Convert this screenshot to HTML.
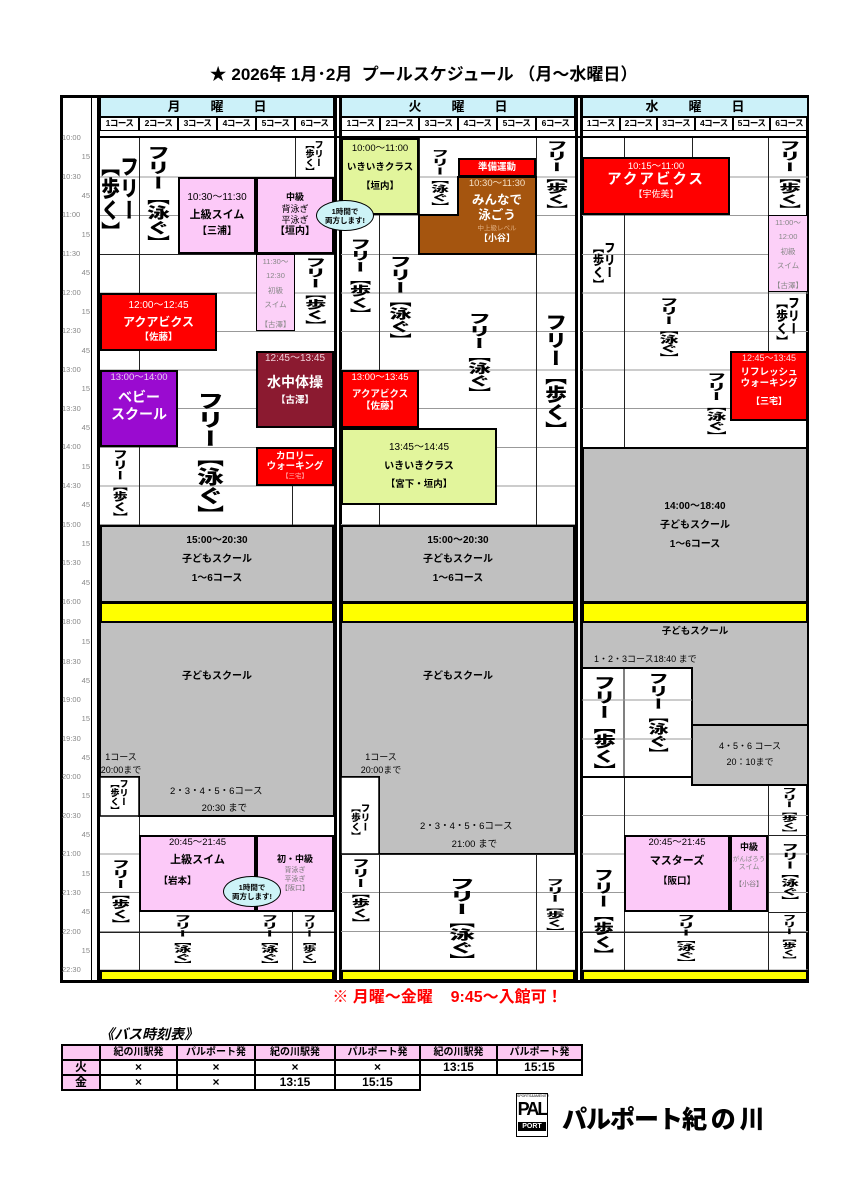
<!DOCTYPE html>
<html><head><meta charset="utf-8">
<style>
*{margin:0;padding:0}
body{width:847px;height:1200px;background:#fff;position:relative;overflow:hidden;font-family:"Liberation Sans","Noto Sans CJK JP",sans-serif;color:#000}
.a{position:absolute;box-sizing:border-box}
.c{display:flex;flex-direction:column;align-items:center;justify-content:center;text-align:center;line-height:1.25}
.b{border:2px solid #000}
.vt{writing-mode:vertical-rl;font-weight:900;line-height:1;display:inline-block;font-family:"Noto Sans CJK JP",sans-serif;white-space:nowrap}
.vb{display:flex;align-items:center;justify-content:center}
.bd{font-weight:bold}
.tl{position:absolute;left:60px;width:30px;text-align:right;font-size:7.5px;color:#888;line-height:9px}
.body{background:repeating-linear-gradient(to bottom,transparent 0,transparent 37.6px,#999 37.6px,#999 38.6px)}
.vl{position:absolute;width:1px;background:#222}
.hl{position:absolute;height:1px;background:#222}
.cr{display:flex}
.cr div{flex:1;border:1px solid #000;font-size:8.5px;font-weight:bold;text-align:center;line-height:11px;letter-spacing:-0.5px}
.hd{background:#ccf1f9;border:1.5px solid #000;font-size:13px;font-weight:bold;text-align:center;line-height:17px;letter-spacing:30px;padding-left:30px}
.bt td{border:2px solid #000;text-align:center;padding:0;line-height:13px;height:13px}
</style></head><body>

<div class="a bd" style="left:0;top:63px;width:847px;text-align:center;font-size:17px;line-height:24px">★ 2026年 1月･2月&nbsp; プールスケジュール （月～水曜日）</div>

<!-- frame -->
<div class="a" style="left:60px;top:95px;width:749px;height:888px;border:3px solid #000"></div>
<div class="vl" style="left:91px;top:97px;height:884px;background:#000"></div>
<div class="a" style="left:97px;top:97px;width:3px;height:884px;background:#000"></div>
<div class="a" style="left:334px;top:97px;width:2.5px;height:884px;background:#000"></div>
<div class="a" style="left:339px;top:97px;width:2.5px;height:884px;background:#000"></div>
<div class="a" style="left:575px;top:97px;width:2.5px;height:884px;background:#000"></div>
<div class="a" style="left:580px;top:97px;width:2.5px;height:884px;background:#000"></div>

<!-- headers -->
<div class="a hd" style="left:100px;top:97px;width:234px;height:20px">月曜日</div>
<div class="a hd" style="left:341px;top:97px;width:234px;height:20px">火曜日</div>
<div class="a hd" style="left:582px;top:97px;width:226px;height:20px">水曜日</div>
<div class="a cr" style="left:100px;top:117px;width:234px;height:14px"><div>1コース</div><div>2コース</div><div>3コース</div><div>4コース</div><div>5コース</div><div>6コース</div></div>
<div class="a cr" style="left:341px;top:117px;width:234px;height:14px"><div>1コース</div><div>2コース</div><div>3コース</div><div>4コース</div><div>5コース</div><div>6コース</div></div>
<div class="a cr" style="left:582px;top:117px;width:226px;height:14px"><div>1コース</div><div>2コース</div><div>3コース</div><div>4コース</div><div>5コース</div><div>6コース</div></div>
<div class="a" style="left:100px;top:136px;width:708px;height:2px;background:#000"></div>

<!-- bodies with grid -->
<div class="a body" style="left:100px;top:139px;width:234px;height:463px"></div>
<div class="a body" style="left:341px;top:139px;width:234px;height:463px"></div>
<div class="a body" style="left:582px;top:139px;width:226px;height:463px"></div>
<div class="a body" style="left:100px;top:623px;width:234px;height:347px"></div>
<div class="a body" style="left:341px;top:623px;width:234px;height:347px"></div>
<div class="a body" style="left:582px;top:623px;width:226px;height:347px"></div>

<!-- time labels -->
<div class="tl" style="top:133px;text-align:left;left:62px">10:00</div><div class="tl" style="top:152px">15</div>
<div class="tl" style="top:172px;text-align:left;left:62px">10:30</div><div class="tl" style="top:191px">45</div>
<div class="tl" style="top:210px;text-align:left;left:62px">11:00</div><div class="tl" style="top:230px">15</div>
<div class="tl" style="top:249px;text-align:left;left:62px">11:30</div><div class="tl" style="top:268px">45</div>
<div class="tl" style="top:288px;text-align:left;left:62px">12:00</div><div class="tl" style="top:307px">15</div>
<div class="tl" style="top:326px;text-align:left;left:62px">12:30</div><div class="tl" style="top:346px">45</div>
<div class="tl" style="top:365px;text-align:left;left:62px">13:00</div><div class="tl" style="top:384px">15</div>
<div class="tl" style="top:404px;text-align:left;left:62px">13:30</div><div class="tl" style="top:423px">45</div>
<div class="tl" style="top:442px;text-align:left;left:62px">14:00</div><div class="tl" style="top:462px">15</div>
<div class="tl" style="top:481px;text-align:left;left:62px">14:30</div><div class="tl" style="top:500px">45</div>
<div class="tl" style="top:520px;text-align:left;left:62px">15:00</div><div class="tl" style="top:539px">15</div>
<div class="tl" style="top:558px;text-align:left;left:62px">15:30</div><div class="tl" style="top:578px">45</div>
<div class="tl" style="top:597px;text-align:left;left:62px">16:00</div>
<div class="tl" style="top:617px;text-align:left;left:62px">18:00</div><div class="tl" style="top:637px">15</div>
<div class="tl" style="top:657px;text-align:left;left:62px">18:30</div><div class="tl" style="top:676px">45</div>
<div class="tl" style="top:695px;text-align:left;left:62px">19:00</div><div class="tl" style="top:714px">15</div>
<div class="tl" style="top:734px;text-align:left;left:62px">19:30</div><div class="tl" style="top:753px">45</div>
<div class="tl" style="top:772px;text-align:left;left:62px">20:00</div><div class="tl" style="top:791px">15</div>
<div class="tl" style="top:811px;text-align:left;left:62px">20:30</div><div class="tl" style="top:830px">45</div>
<div class="tl" style="top:849px;text-align:left;left:62px">21:00</div><div class="tl" style="top:869px">15</div>
<div class="tl" style="top:888px;text-align:left;left:62px">21:30</div><div class="tl" style="top:907px">45</div>
<div class="tl" style="top:927px;text-align:left;left:62px">22:00</div><div class="tl" style="top:946px">15</div>
<div class="tl" style="top:965px;text-align:left;left:62px">22:30</div>

<!-- thin structural lines -->
<div class="vl" style="left:139px;top:138px;height:387px"></div>
<div class="vl" style="left:295px;top:138px;height:39px"></div>
<div class="vl" style="left:292px;top:486px;height:39px"></div>
<div class="vl" style="left:139px;top:777px;height:193px"></div>
<div class="vl" style="left:292px;top:912px;height:58px"></div>
<div class="hl" style="left:100px;top:932px;width:234px"></div>
<div class="hl" style="left:100px;top:254px;width:234px"></div>
<div class="vl" style="left:379px;top:215px;height:310px"></div>
<div class="vl" style="left:536px;top:138px;height:387px"></div>
<div class="vl" style="left:419px;top:138px;height:77px"></div>
<div class="vl" style="left:379px;top:777px;height:193px"></div>
<div class="vl" style="left:536px;top:854px;height:116px"></div>
<div class="vl" style="left:624px;top:138px;height:309px"></div>
<div class="vl" style="left:692px;top:138px;height:19px"></div>
<div class="vl" style="left:768px;top:138px;height:213px"></div>
<div class="vl" style="left:624px;top:777px;height:193px"></div>
<div class="vl" style="left:768px;top:785px;height:185px"></div>
<div class="hl" style="left:582px;top:932px;width:226px"></div>

<!-- polygons -->
<svg class="a" style="left:0;top:0" width="847" height="1200">
<polygon points="100,622 334,622 334,816 139,816 139,777 100,777" fill="#c0c0c0" stroke="#000" stroke-width="2"/>
<polygon points="341,622 575,622 575,854 379,854 379,777 341,777" fill="#c0c0c0" stroke="#000" stroke-width="2"/>
<polygon points="582,622 808,622 808,785 692,785 692,668 582,668" fill="#c0c0c0" stroke="#000" stroke-width="2"/>
<line x1="692" y1="725" x2="808" y2="725" stroke="#000" stroke-width="2"/>
<polygon points="458,177 536,177 536,254 419,254 419,215 458,215" fill="#a5550f" stroke="#000" stroke-width="2"/>
<rect x="100" y="777" width="39" height="39" fill="#fff" stroke="#000" stroke-width="1.5"/>
<rect x="341" y="777" width="38" height="77" fill="#fff" stroke="#000" stroke-width="1.5"/>
<rect x="582" y="668" width="110" height="109" fill="#fff" stroke="#000" stroke-width="2"/>
<line x1="624" y1="668" x2="624" y2="777" stroke="#000"/>
<line x1="582" y1="700" x2="692" y2="700" stroke="#999"/>
<line x1="582" y1="739" x2="692" y2="739" stroke="#999"/>
</svg>

<!-- Monday boxes -->
<div class="a b c" style="left:178px;top:177px;width:78px;height:77px;background:#fcc9f8"><div style="font-size:10px">10:30～11:30</div><div class="bd" style="font-size:11px;margin:4px 0">上級スイム</div><div class="bd" style="font-size:10px">【三浦】</div></div>
<div class="a b c" style="left:256px;top:177px;width:78px;height:77px;background:#fcc9f8"><div class="bd" style="font-size:9px">中級</div><div style="font-size:9px">背泳ぎ</div><div style="font-size:9px">平泳ぎ</div><div class="bd" style="font-size:10px">【垣内】</div></div>
<div class="a c" style="left:256px;top:254px;width:39px;height:77px;background:#fcd0f8;border:1px solid #000;color:#888;font-size:7.5px;line-height:1.9;justify-content:flex-start"><div>11:30～</div><div>12:30</div><div>初級</div><div>スイム</div><div style="margin-top:6px">【古澤】</div></div>
<div class="a b c" style="left:100px;top:293px;width:117px;height:58px;background:#f00;color:#fff"><div style="font-size:10px">12:00～12:45</div><div class="bd" style="font-size:12px;margin:2px 0">アクアビクス</div><div class="bd" style="font-size:9.5px">【佐藤】</div></div>
<div class="a b c" style="left:256px;top:351px;width:78px;height:77px;background:#8b1a30;color:#fff;justify-content:flex-start"><div style="font-size:10px;color:#f0d0d8">12:45～13:45</div><div class="bd" style="font-size:14px;margin:8px 0 4px">水中体操</div><div class="bd" style="font-size:9.5px">【古澤】</div></div>
<div class="a b c" style="left:100px;top:370px;width:78px;height:77px;background:#9a0bd0;color:#fff;justify-content:flex-start"><div style="font-size:9.5px;color:#e8d0f0">13:00～14:00</div><div class="bd" style="font-size:14px;margin-top:5px">ベビー</div><div class="bd" style="font-size:14px">スクール</div></div>
<div class="a b c" style="left:256px;top:447px;width:78px;height:39px;background:#f00;color:#fff"><div class="bd" style="font-size:9.5px;line-height:1.1">カロリー</div><div class="bd" style="font-size:9.5px;line-height:1.1">ウォーキング</div><div style="font-size:6.5px;color:#fbb">【三宅】</div></div>
<div class="a b c" style="left:100px;top:525px;width:234px;height:78px;background:#c0c0c0;justify-content:flex-start;padding-top:4px"><div class="bd" style="font-size:10px;line-height:19px">15:00～20:30</div><div class="bd" style="font-size:10px;line-height:19px">子どもスクール</div><div class="bd" style="font-size:10px;line-height:19px">1～6コース</div></div>
<div class="a b" style="left:100px;top:602px;width:234px;height:21px;background:#ff0"></div>
<div class="a bd" style="left:100px;top:667px;width:234px;text-align:center;font-size:10px">子どもスクール</div>
<div class="a" style="left:100px;top:751px;width:42px;text-align:center;font-size:9px;line-height:13px">1コース<br>20:00まで</div>
<div class="a" style="left:170px;top:783px;font-size:9.5px;line-height:17px">2・3・4・5・6コース<br>&nbsp;&nbsp;&nbsp;&nbsp;&nbsp;&nbsp;&nbsp;&nbsp;&nbsp;&nbsp;&nbsp;&nbsp;20:30 まで</div>
<div class="a b c" style="left:139px;top:835px;width:117px;height:77px;background:#fcc9f8;justify-content:flex-start"><div style="font-size:9.5px">20:45～21:45</div><div class="bd" style="font-size:11px;margin:5px 0 8px">上級スイム</div><div class="bd" style="font-size:9.5px;margin-right:40px">【岩本】</div></div>
<div class="a b c" style="left:256px;top:835px;width:78px;height:77px;background:#fcc9f8"><div class="bd" style="font-size:9px;margin-bottom:2px">初・中級</div><div style="font-size:7px;color:#777">背泳ぎ</div><div style="font-size:7px;color:#777">平泳ぎ</div><div style="font-size:7px;color:#777">【阪口】</div></div>
<div class="a b" style="left:100px;top:970px;width:234px;height:11px;background:#ff0"></div>

<!-- Tuesday boxes -->
<div class="a b c" style="left:341px;top:138px;width:78px;height:77px;background:#e2f59c;justify-content:flex-start;padding-top:3px"><div style="font-size:9.5px">10:00～11:00</div><div class="bd" style="font-size:9.5px;margin:7px 0">いきいきクラス</div><div class="bd" style="font-size:9.5px">【垣内】</div></div>
<div class="a b c bd" style="left:458px;top:158px;width:78px;height:19px;background:#f00;color:#fff;font-size:9.5px">準備運動</div>
<div class="a c" style="left:458px;top:178px;width:78px;height:75px;color:#fff;justify-content:flex-start;line-height:1.2"><div style="font-size:9.5px;color:#f6e0c6">10:30～11:30</div><div class="bd" style="font-size:12.5px;margin-top:4px">みんなで</div><div class="bd" style="font-size:12.5px">泳ごう</div><div style="font-size:6.5px;color:#e2b080;margin-top:2px">中上級レベル</div><div class="bd" style="font-size:9px">【小谷】</div></div>
<div class="a b c" style="left:341px;top:370px;width:78px;height:58px;background:#f00;color:#fff;justify-content:flex-start"><div style="font-size:9.5px">13:00～13:45</div><div class="bd" style="font-size:9.5px;margin-top:5px">アクアビクス</div><div class="bd" style="font-size:9.5px">【佐藤】</div></div>
<div class="a b c" style="left:341px;top:428px;width:156px;height:77px;background:#e2f59c"><div style="font-size:10px">13:45～14:45</div><div class="bd" style="font-size:10px;margin:6px 0">いきいきクラス</div><div class="bd" style="font-size:9.5px">【宮下・垣内】</div></div>
<div class="a b c" style="left:341px;top:525px;width:234px;height:78px;background:#c0c0c0;justify-content:flex-start;padding-top:4px"><div class="bd" style="font-size:10px;line-height:19px">15:00～20:30</div><div class="bd" style="font-size:10px;line-height:19px">子どもスクール</div><div class="bd" style="font-size:10px;line-height:19px">1～6コース</div></div>
<div class="a b" style="left:341px;top:602px;width:234px;height:21px;background:#ff0"></div>
<div class="a bd" style="left:341px;top:667px;width:234px;text-align:center;font-size:10px">子どもスクール</div>
<div class="a" style="left:341px;top:751px;width:80px;text-align:center;font-size:9px;line-height:13px">1コース<br>20:00まで</div>
<div class="a" style="left:420px;top:818px;font-size:9.5px;line-height:18px">2・3・4・5・6コース<br>&nbsp;&nbsp;&nbsp;&nbsp;&nbsp;&nbsp;&nbsp;&nbsp;&nbsp;&nbsp;&nbsp;&nbsp;21:00 まで</div>
<div class="hl" style="left:341px;top:854px;width:234px"></div>
<div class="a b" style="left:341px;top:970px;width:234px;height:11px;background:#ff0"></div>

<!-- Wednesday boxes -->
<div class="a b c" style="left:582px;top:157px;width:148px;height:58px;background:#f00;color:#fff;justify-content:flex-start;padding-top:2px"><div style="font-size:9.5px">10:15～11:00</div><div class="bd" style="font-size:14.5px;letter-spacing:2px;line-height:1.1">アクアビクス</div><div style="font-size:9px">【宇佐美】</div></div>
<div class="a c" style="left:768px;top:215px;width:40px;height:77px;background:#fcd0f8;border:1px solid #000;color:#888;font-size:7.5px;line-height:1.9;justify-content:flex-start"><div>11:00～</div><div>12:00</div><div>初級</div><div>スイム</div><div style="margin-top:6px">【古澤】</div></div>
<div class="a b c" style="left:730px;top:351px;width:78px;height:70px;background:#f00;color:#fff;justify-content:flex-start"><div style="font-size:9px;color:#fdd">12:45～13:45</div><div class="bd" style="font-size:9.5px;margin-top:4px;line-height:1.15">リフレッシュ</div><div class="bd" style="font-size:9.5px;line-height:1.15">ウォーキング</div><div class="bd" style="font-size:9px;margin-top:6px">【三宅】</div></div>
<div class="a b c" style="left:582px;top:447px;width:226px;height:156px;background:#c0c0c0"><div class="bd" style="font-size:10px;line-height:19px">14:00～18:40</div><div class="bd" style="font-size:10px;line-height:19px">子どもスクール</div><div class="bd" style="font-size:10px;line-height:19px">1～6コース</div></div>
<div class="a b" style="left:582px;top:602px;width:226px;height:21px;background:#ff0"></div>
<div class="a bd" style="left:582px;top:623px;width:226px;text-align:center;font-size:9.5px">子どもスクール</div>
<div class="a" style="left:594px;top:652px;font-size:9px">1・2・3コース18:40 まで</div>
<div class="a" style="left:692px;top:738px;width:116px;text-align:center;font-size:9px;line-height:16px">4・5・6 コース<br>20：10まで</div>
<div class="a b c" style="left:624px;top:835px;width:106px;height:77px;background:#fcc9f8;justify-content:flex-start"><div style="font-size:9.5px">20:45～21:45</div><div class="bd" style="font-size:11px;margin:6px 0 7px">マスターズ</div><div class="bd" style="font-size:9.5px">【阪口】</div></div>
<div class="a b c" style="left:730px;top:835px;width:38px;height:77px;background:#fcc9f8;justify-content:flex-start;padding-top:5px"><div class="bd" style="font-size:9px;margin-bottom:3px">中級</div><div style="font-size:6.5px;color:#888;white-space:nowrap">がんばろう</div><div style="font-size:7px;color:#888">スイム</div><div style="font-size:7px;color:#777;margin-top:8px">【小谷】</div></div>
<div class="hl" style="left:768px;top:835px;width:40px"></div>
<div class="hl" style="left:768px;top:912px;width:40px"></div>
<div class="a b" style="left:582px;top:970px;width:226px;height:11px;background:#ff0"></div>

<!-- vertical texts Monday -->
<div class="a vb" style="left:100px;top:146px;width:39px;height:106px"><span class="vt" style="font-size:22px;transform:scaleX(.85)">フリー<br>【歩く】</span></div>
<div class="a vb" style="left:139px;top:143px;width:39px;height:108px"><span class="vt" style="font-size:15px;transform:scaleX(1.5)">フリー【泳ぐ】</span></div>
<div class="a vb" style="left:295px;top:139px;width:39px;height:37px"><span class="vt" style="font-size:9px">フリー<br>【歩く】</span></div>
<div class="a vb" style="left:295px;top:256px;width:39px;height:75px"><span class="vt" style="font-size:10.5px;transform:scaleX(2)">フリー【歩く】</span></div>
<div class="a vb" style="left:180px;top:388px;width:60px;height:138px"><span class="vt" style="font-size:19px;transform:scaleX(1.4)">フリー【泳ぐ】</span></div>
<div class="a vb" style="left:100px;top:447px;width:39px;height:77px"><span class="vt" style="font-size:10.5px;transform:scaleX(1.4)">フリー【歩く】</span></div>
<div class="a vb" style="left:100px;top:778px;width:39px;height:37px"><span class="vt" style="font-size:9px">フリー<br>【歩く】</span></div>
<div class="a vb" style="left:100px;top:858px;width:39px;height:72px"><span class="vt" style="font-size:10px;transform:scaleX(1.8)">フリー【歩く】</span></div>
<div class="a vb" style="left:162px;top:913px;width:40px;height:56px"><span class="vt" style="font-size:7.8px;transform:scaleX(2.2)">フリー【泳ぐ】</span></div>
<div class="a vb" style="left:250px;top:913px;width:38px;height:56px"><span class="vt" style="font-size:7.8px;transform:scaleX(2.2)">フリー【泳ぐ】</span></div>
<div class="a vb" style="left:293px;top:913px;width:31px;height:56px"><span class="vt" style="font-size:7.8px;transform:scaleX(1.7)">フリー【歩く】</span></div>

<!-- vertical texts Tuesday -->
<div class="a vb" style="left:419px;top:148px;width:39px;height:64px"><span class="vt" style="font-size:8.8px;transform:scaleX(2)">フリー【泳ぐ】</span></div>
<div class="a vb" style="left:536px;top:139px;width:39px;height:76px"><span class="vt" style="font-size:10.7px;transform:scaleX(2)">フリー【歩く】</span></div>
<div class="a vb" style="left:341px;top:236px;width:38px;height:86px"><span class="vt" style="font-size:11.7px;transform:scaleX(1.8)">フリー【歩く】</span></div>
<div class="a vb" style="left:380px;top:253px;width:40px;height:94px"><span class="vt" style="font-size:13px;transform:scaleX(1.7)">フリー【泳ぐ】</span></div>
<div class="a vb" style="left:458px;top:311px;width:40px;height:90px"><span class="vt" style="font-size:12.5px;transform:scaleX(1.8)">フリー【泳ぐ】</span></div>
<div class="a vb" style="left:536px;top:311px;width:39px;height:130px"><span class="vt" style="font-size:18px;transform:scaleX(1.2)">フリー【歩く】</span></div>
<div class="a vb" style="left:341px;top:800px;width:38px;height:44px"><span class="vt" style="font-size:9.5px">フリー<br>【歩く】</span></div>
<div class="a vb" style="left:341px;top:857px;width:38px;height:72px"><span class="vt" style="font-size:10px;transform:scaleX(1.8)">フリー【歩く】</span></div>
<div class="a vb" style="left:440px;top:876px;width:40px;height:91px"><span class="vt" style="font-size:12.8px;transform:scaleX(2)">フリー【泳ぐ】</span></div>
<div class="a vb" style="left:536px;top:878px;width:39px;height:58px"><span class="vt" style="font-size:8.2px;transform:scaleX(2.2)">フリー【歩く】</span></div>

<!-- vertical texts Wednesday -->
<div class="a vb" style="left:768px;top:139px;width:40px;height:76px"><span class="vt" style="font-size:10.7px;transform:scaleX(2)">フリー【歩く】</span></div>
<div class="a vb" style="left:582px;top:238px;width:42px;height:56px"><span class="vt" style="font-size:12.5px;transform:scaleX(.9)">フリー<br>【歩く】</span></div>
<div class="a vb" style="left:768px;top:294px;width:40px;height:56px"><span class="vt" style="font-size:13px;transform:scaleX(.9)">フリー<br>【歩く】</span></div>
<div class="a vb" style="left:648px;top:296px;width:40px;height:68px"><span class="vt" style="font-size:9.4px;transform:scaleX(2)">フリー【泳ぐ】</span></div>
<div class="a vb" style="left:695px;top:371px;width:40px;height:70px"><span class="vt" style="font-size:9.8px;transform:scaleX(2)">フリー【泳ぐ】</span></div>
<div class="a vb" style="left:582px;top:674px;width:42px;height:104px"><span class="vt" style="font-size:14.7px;transform:scaleX(1.5)">フリー【歩く】</span></div>
<div class="a vb" style="left:636px;top:671px;width:42px;height:90px"><span class="vt" style="font-size:12.6px;transform:scaleX(1.6)">フリー【泳ぐ】</span></div>
<div class="a vb" style="left:768px;top:786px;width:40px;height:50px"><span class="vt" style="font-size:7px;transform:scaleX(2.2)">フリー【歩く】</span></div>
<div class="a vb" style="left:768px;top:842px;width:40px;height:64px"><span class="vt" style="font-size:8.8px;transform:scaleX(2)">フリー【泳ぐ】</span></div>
<div class="a vb" style="left:768px;top:912px;width:40px;height:52px"><span class="vt" style="font-size:7px;transform:scaleX(2)">フリー【歩く】</span></div>
<div class="a vb" style="left:582px;top:866px;width:42px;height:98px"><span class="vt" style="font-size:13.4px;transform:scaleX(1.5)">フリー【歩く】</span></div>
<div class="a vb" style="left:666px;top:913px;width:40px;height:54px"><span class="vt" style="font-size:7.4px;transform:scaleX(2.5)">フリー【泳ぐ】</span></div>

<!-- bubbles (on top) -->
<div class="a c bd" style="left:316px;top:200px;width:58px;height:31px;border-radius:50%;background:#cdf3f7;border:1.5px solid #000;font-size:7.5px;line-height:1.2">1時間で<br>両方します!</div>
<div class="a c bd" style="left:223px;top:876px;width:58px;height:31px;border-radius:50%;background:#cdf3f7;border:1.5px solid #000;font-size:7.5px;line-height:1.2">1時間で<br>両方します!</div>

<!-- notice -->
<div class="a bd" style="left:0;top:986px;width:895px;text-align:center;font-size:16px;color:#f00;line-height:24px">※ 月曜～金曜&nbsp;&nbsp;&nbsp; 9:45～入館可！</div>

<!-- bus table -->
<div class="a bd" style="left:100px;top:1025px;font-size:14px;font-style:italic;line-height:18px">《バス時刻表》</div>
<table class="a bt" style="left:61px;top:1044px;border-collapse:collapse;font-size:10px;font-weight:bold">
<tr style="background:#fcc9f2"><td style="width:36px"></td><td style="width:75px">紀の川駅発</td><td style="width:76px">パルポート発</td><td style="width:78px">紀の川駅発</td><td style="width:83px">パルポート発</td><td style="width:75px">紀の川駅発</td><td style="width:83px">パルポート発</td></tr>
<tr style="font-size:12px"><td style="background:#fcc9f2">火</td><td>×</td><td>×</td><td>×</td><td>×</td><td>13:15</td><td>15:15</td></tr>
<tr style="font-size:12px"><td style="background:#fcc9f2">金</td><td>×</td><td>×</td><td>13:15</td><td>15:15</td><td style="border:none"></td><td style="border:none"></td></tr>
</table>

<!-- logo -->
<div class="a" style="left:516px;top:1093px;width:32px;height:44px;border:1.5px solid #000;text-align:center">
<div style="font-size:3.5px;line-height:5px">SPORTS&amp;AMENITY</div>
<div class="bd" style="font-size:18px;line-height:20px;letter-spacing:-2px;font-family:'Liberation Sans',sans-serif">PAL</div>
<div class="bd" style="font-size:7px;line-height:9px;background:#000;color:#fff;margin:3px 1px 0">PORT</div>
</div>
<div class="a" style="left:562px;top:1102px;font-size:25px;font-weight:900;line-height:32px;font-family:'Noto Sans CJK JP',sans-serif;letter-spacing:-1px">パルポート紀 の 川</div>

</body></html>
